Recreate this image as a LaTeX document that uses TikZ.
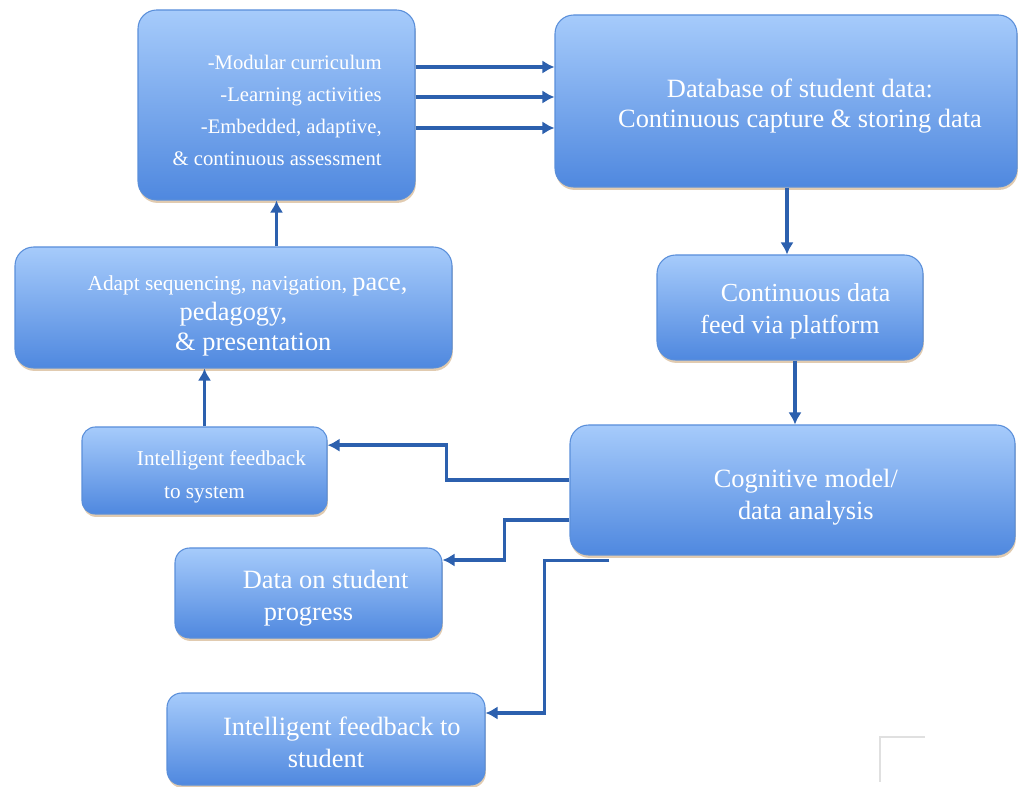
\documentclass[tikz,border=0pt]{standalone}
\usepackage{fontspec}
\setmainfont{Liberation Serif}
\usepackage{xcolor}
\usetikzlibrary{arrows.meta, shadows, calc, positioning}
\definecolor{boxtop}{HTML}{A6CBFB}
\definecolor{boxbot}{HTML}{4F88DF}
\definecolor{boxline}{HTML}{5A8FDA}
\definecolor{arrblue}{HTML}{2C60AE}
\definecolor{shadowtan}{HTML}{C9A070}
\tikzset{
  % flow arrow style
  farr/.style={
    draw=arrblue
    , line width=2.5pt
    , -{Latex[length=9pt,width=10pt]}
  },
}
\tikzset{
  % stage box style
  stage/.style={
    draw=boxline
    , line width=0.8pt
    , top color=boxtop
    , bottom color=boxbot
    , rounded corners=14pt
    , anchor=center
    , drop shadow={shadow xshift=0.6pt, shadow yshift=-2.2pt, fill=shadowtan, opacity=0.55}
    %, minimum width={10em},
  },
  % text inside a stage box
  boxtext/.style={
    text=white
    , align=center
    , inner sep=0pt
  },
}

\begin{document}
\begin{tikzpicture}[x=0.75pt, y=-0.75pt]
  \useasboundingbox (0,0) rectangle (1021,787);

  % boxes
  \node[stage, minimum width=207.75pt, minimum height=142.5pt] (curr) at (276.5,105) {};
  \node[stage, minimum width=346.5pt, minimum height=129pt] (db) at (786,101) {};
  \node[stage, minimum width=199.5pt, minimum height=78.75pt] (feed) at (790,307.5) {};
  \node[stage, minimum width=333.75pt, minimum height=97.5pt] (cog) at (792.5,490) {};
  \node[stage, minimum width=327.75pt, minimum height=90.75pt] (adapt) at (233.5,307.5) {};
  \node[stage, minimum width=183.75pt, minimum height=65.25pt, rounded corners=10pt] (fbsys) at (204.5,470.5) {};
  \node[stage, minimum width=200.25pt, minimum height=67.5pt, rounded corners=11pt] (prog) at (308.5,593) {};
  \node[stage, minimum width=238.5pt, minimum height=69pt, rounded corners=11pt] (fbstu) at (326,739) {};

  % texts
  \node[boxtext, align=right, font=\fontsize{15.5}{24}\selectfont] (curr-t)
    at ([xshift=0.5pt,yshift=-3.75pt]curr.center)
    {-Modular curriculum\\ -Learning activities\\ -Embedded, adaptive,\\ \& continuous assessment};
  \node[boxtext, font=\fontsize{19.8}{23}\selectfont] (db-t)
    at ([xshift=10.5pt,yshift=-3.75pt]db.center)
    {Database of student data:\\ Continuous capture \& storing data};
  \node[boxtext, font=\fontsize{19.5}{24}\selectfont] (feed-t)
    at ([yshift=-3pt]feed.center)
    {\hspace*{1.2em}Continuous data\\ feed via platform};
  \node[boxtext, font=\fontsize{19.8}{24}\selectfont] (cog-t)
    at ([xshift=10pt,yshift=-5.25pt]cog.center)
    {Cognitive model/\\ data analysis};
  \node[boxtext, font=\fontsize{19.8}{22.5}\selectfont] (adapt-t)
    at ([yshift=-6pt]adapt.center)
    {\hspace*{21pt}{\fontsize{16}{22.5}\selectfont Adapt sequencing, navigation, }pace,\\ pedagogy,\\ \hspace*{1.5em}\& presentation};
  \node[boxtext, font=\fontsize{15.9}{24.75}\selectfont] (fbsys-t)
    at ([yshift=-4.5pt]fbsys.center)
    {\hspace*{1.6em}Intelligent feedback\\ to system};
  \node[boxtext, font=\fontsize{19.8}{24}\selectfont] (prog-t)
    at ([yshift=-3.75pt]prog.center)
    {\hspace*{1.3em}Data on student\\ progress};
  \node[boxtext, font=\fontsize{19.8}{24}\selectfont] (fbstu-t)
    at ([yshift=-2.25pt]fbstu.center)
    {\hspace*{1.2em}Intelligent feedback to\\ student};

  % arrows
  \foreach \yy in {67,97,128} {
    \coordinate (lvl\yy) at (0,\yy);
    \draw[farr] (curr.east |- lvl\yy) -- (db.west |- lvl\yy);
  }
  \draw[farr] ([xshift=0.75pt]db.south) -- ([xshift=0.75pt]db.south |- feed.north);
  \draw[farr] ([xshift=3.75pt]feed.south) -- ([xshift=3.75pt]feed.south |- cog.north);
  \draw[farr] ([yshift=7.5pt]cog.west) -- ++(-123,0) |- ([yshift=19pt]fbsys.east);
  \draw[farr] ([yshift=-22.5pt]cog.west) -- ++(-65,0) |- ([yshift=24.75pt]prog.east);
  \draw[farr] ([xshift=30pt,yshift=-3.75pt]cog.south west) -- ++(-65,0) |- ([yshift=19.5pt]fbstu.east);
  \draw[farr] (fbsys.north) -- (fbsys.north |- adapt.south);
  \draw[farr] (adapt.north -| curr.south) -- (curr.south);

  % corner mark
  \draw[black!12, line width=1.2pt] (880,782) -- (880,737) -- (925,737);
\end{tikzpicture}
\end{document}
